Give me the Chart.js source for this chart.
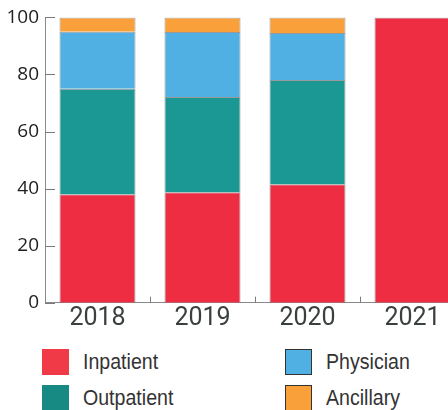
<!DOCTYPE html>
<html>
<head>
<meta charset="utf-8">
<script src="https://cdn.jsdelivr.net/npm/chart.js@4/dist/chart.umd.min.js"></script>
<style>
  html, body { margin: 0; padding: 0; background: #fff; overflow: hidden; width: 448px; height: 410px; }
  #wrap { position: absolute; left: 0; top: 0; width: 470px; height: 340px; }
  #legend {
    position: absolute; left: 42px; top: 349px;
    display: grid; grid-template-columns: 243px 160px; grid-template-rows: 26px 26px;
    grid-auto-flow: column; row-gap: 10px;
    font-family: "Liberation Sans", Arial, sans-serif; font-size: 22px; color: #333;
  }
  .item { display: flex; align-items: center; white-space: nowrap; }
  .box { width: 27px; height: 26px; box-sizing: border-box; margin-right: 14px; flex: none; }
  .lbl { display: inline-block; transform: scaleX(0.89); transform-origin: left center; }
</style>
</head>
<body>
<div id="wrap"><canvas id="myChart" width="470" height="340"></canvas></div>
<div id="legend"></div>
<script>
const years = ['2018', '2019', '2020', '2021'];
const seriesNames = ['Inpatient', 'Outpatient', 'Physician', 'Ancillary'];
const inpatient = [38, 38.7, 41.5, 100];
const outpatient = [37, 33.4, 36.6, null];
const physician = [20, 22.8, 16.4, null];
const ancillary = [5, 5.1, 5.5, null];
const yTicks = [0, 20, 40, 60, 80, 100];

const barColors = ['#ee2d43', '#1b9893', '#51b0e3', '#f9a03b'];
const keyColors = ['#f03a48', '#168a83', '#51b0e3', '#f9a03b'];
const keyOutlined = [false, false, true, true];

// short tick marks drawn inside the plot, on both axes
const innerTicks = {
    id: 'innerTicks',
    afterDraw(chart) {
        const {ctx, chartArea, scales: {x, y}} = chart;
        ctx.save();
        ctx.strokeStyle = '#7a7a7a';
        ctx.lineWidth = 1;
        ctx.beginPath();
        yTicks.forEach(v => {
            const py = Math.round(y.getPixelForValue(v)) + 0.5;
            ctx.moveTo(chartArea.left, py);
            ctx.lineTo(chartArea.left + 10, py);
        });
        const step = x.getPixelForValue(1) - x.getPixelForValue(0);
        for (let i = 1; i < years.length; i++) {
            const px = Math.round(x.getPixelForValue(i) - step / 2) + 0.5;
            ctx.moveTo(px, chartArea.bottom);
            ctx.lineTo(px, chartArea.bottom - 6);
        }
        ctx.stroke();
        ctx.restore();
    }
};

const renderChart = () => {
    const values = [inpatient, outpatient, physician, ancillary];
    const ctx = document.getElementById('myChart').getContext('2d');
    const chart = new Chart(ctx, {
        type: 'bar',
        data: {
            labels: years,
            datasets: seriesNames.map((name, i) => ({
                label: name,
                data: values[i],
                backgroundColor: barColors[i],
                borderColor: 'rgba(70,70,70,0.55)',
                borderWidth: 1,
                categoryPercentage: 1,
                barPercentage: 0.724
            }))
        },
        options: {
            responsive: false,
            animation: false,
            layout: { padding: { top: 17, right: 5, left: 0, bottom: 0 } },
            plugins: { legend: { display: false }, tooltip: { enabled: false } },
            scales: {
                x: {
                    stacked: true,
                    grid: { display: false, drawTicks: false },
                    border: { display: true, color: '#8a8a8a', width: 1 },
                    ticks: {
                        padding: 1,
                        color: '#3a3f3f',
                        font: { family: 'Roboto', size: 25 }
                    },
                    afterFit: s => { s.height = 37.3; }
                },
                y: {
                    stacked: true,
                    min: 0,
                    max: 100,
                    grid: { display: false, drawTicks: false },
                    border: { display: true, color: '#8a8a8a', width: 1 },
                    afterBuildTicks: s => { s.ticks = yTicks.map(v => ({ value: v })); },
                    ticks: {
                        padding: 6,
                        color: '#1e1e1e',
                        font: { family: 'Open Sans', size: 19 }
                    },
                    afterFit: s => { s.width = 45; }
                }
            }
        },
        plugins: [innerTicks]
    });

    // legend: two columns, filled top to bottom
    const legend = document.getElementById('legend');
    chart.data.datasets.forEach((ds, i) => {
        const item = document.createElement('div');
        item.className = 'item';
        const box = document.createElement('span');
        box.className = 'box';
        box.style.background = keyColors[i];
        if (keyOutlined[i]) box.style.border = '1px solid #333';
        const lbl = document.createElement('span');
        lbl.className = 'lbl';
        lbl.textContent = ds.label;
        item.appendChild(box);
        item.appendChild(lbl);
        legend.appendChild(item);
    });
};

renderChart();
</script>
</body>
</html>
